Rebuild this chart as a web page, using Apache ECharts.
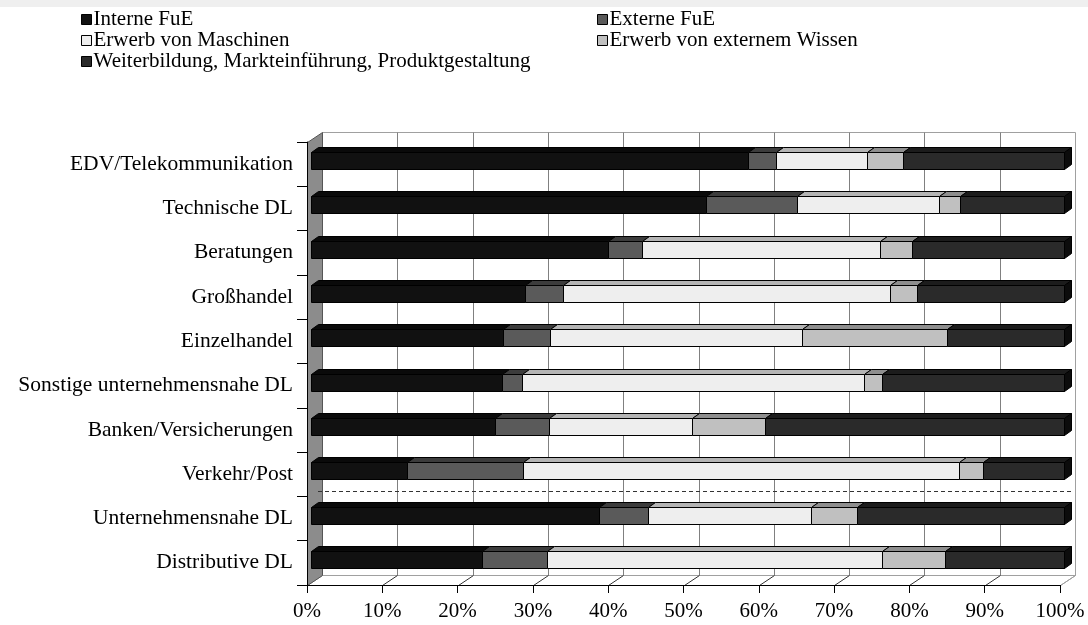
<!DOCTYPE html>
<html>
<head>
<meta charset="utf-8">
<script src="https://cdn.jsdelivr.net/npm/echarts@6/dist/echarts.min.js"></script>
<style>
html,body{margin:0;padding:0;background:#fff;}
#chart{width:1088px;height:625px;}
</style>
</head>
<body>
<div id="chart"></div>
<script>
const categories = ['EDV/Telekommunikation','Technische DL','Beratungen','Großhandel','Einzelhandel','Sonstige unternehmensnahe DL','Banken/Versicherungen','Verkehr/Post','Unternehmensnahe DL','Distributive DL'];
const seriesNames = ['Interne FuE','Externe FuE','Erwerb von Maschinen','Erwerb von externem Wissen','Weiterbildung, Markteinführung, Produktgestaltung'];
const interneFuE    = [58.0,52.5,39.4,28.4,25.5,25.4,24.5,12.7,38.3,22.7];
const externeFuE    = [3.8,12.0,4.5,5.0,6.3,2.6,7.1,15.4,6.4,8.6];
const maschinen     = [12.1,18.9,31.6,43.5,33.4,45.5,19.0,57.9,21.7,44.5];
const wissen        = [4.7,2.8,4.3,3.6,19.3,2.3,9.7,3.2,6.1,8.4];
const weiterbildung = [21.4,13.8,20.2,19.5,15.5,24.2,39.7,10.8,27.5,15.8];
const xTicks = [0,10,20,30,40,50,60,70,80,90,100];

const values = [interneFuE, externeFuE, maschinen, wissen, weiterbildung];
const frontColors = ['#111111','#5a5a5a','#eeeeee','#c0c0c0','#2a2a2a'];
const topColors   = ['#0a0a0a','#3c3c3c','#b4b4b4','#8e8e8e','#1c1c1c'];
const sideColor = '#0c0c0c';
const FONT = 'Liberation Serif';

const DX = 7, DY = -5;       // bar depth
const WX = 15, WY = -10;     // wall depth

function r(v){ return Math.round(v) + 0.5; }

function barRender(params, api) {
  const s = api.value(0), e = api.value(1), ci = api.value(2), si = api.value(3);
  const p0 = api.coord([s, ci]);
  const p1 = api.coord([e, ci]);
  const x0 = r(p0[0] + 4), x1 = r(p1[0] + 4), yc = p0[1];
  const top = r(yc - 12), bot = r(yc + 5);
  const children = [];
  children.push({type:'polygon', shape:{points:[[x0,top],[x0+DX,top+DY],[x1+DX,top+DY],[x1,top]]},
    style:{fill: topColors[si], stroke:'#000', lineWidth:1}});
  children.push({type:'rect', shape:{x:x0, y:top, width:x1-x0, height:bot-top},
    style:{fill: frontColors[si], stroke:'#000', lineWidth:1}});
  if (si === values.length - 1) {
    children.push({type:'polygon', shape:{points:[[x1,top],[x1+DX,top+DY],[x1+DX,bot+DY],[x1,bot]]},
      style:{fill: sideColor, stroke:'#000', lineWidth:1}});
  }
  return {type:'group', children};
}

function frameRender(params, api) {
  const cs = params.coordSys;
  const L = cs.x, T = cs.y, R = cs.x + cs.width, B = cs.y + cs.height;
  const ch = [];
  ch.push({type:'rect', shape:{x:r(L+WX), y:r(T+WY), width:Math.round(R-L), height:Math.round(B-T)},
    style:{fill:'#fff', stroke:'#a0a0a0', lineWidth:1}});
  xTicks.forEach(function(v){
    if (v === 0 || v === 100) return;
    const x = r(api.coord([v, 0])[0] + WX);
    ch.push({type:'line', shape:{x1:x, y1:r(T+WY), x2:x, y2:r(B+WY)}, style:{stroke:'#808080', lineWidth:1}});
  });
  ch.push({type:'polygon', shape:{points:[[r(L),r(B)],[r(L+WX),r(B+WY)],[r(R+WX),r(B+WY)],[r(R),r(B)]]},
    style:{fill:'#fff', stroke:'#a0a0a0', lineWidth:1}});
  xTicks.forEach(function(v){
    if (v === 0) return;
    const x = api.coord([v, 0])[0];
    ch.push({type:'line', shape:{x1:r(x), y1:r(B), x2:r(x+WX), y2:r(B+WY)},
      style:{stroke: v === 100 ? '#a0a0a0' : '#333', lineWidth:1}});
  });
  ch.push({type:'polygon', shape:{points:[[r(L),r(T)],[r(L+WX),r(T+WY)],[r(L+WX),r(B+WY)],[r(L),r(B)]]},
    style:{fill:'#8c8c8c', stroke:'#555', lineWidth:1}});
  const ya = api.coord([0, 7])[1], yb = api.coord([0, 8])[1];
  const yd = r((ya + yb) / 2 - 5);
  ch.push({type:'line', shape:{x1:L+11, y1:yd, x2:R+13, y2:yd},
    style:{stroke:'#333', lineWidth:1, lineDash:[4,3]}});
  return {type:'group', children: ch};
}

const series = [{
  type:'custom', name:'frame', z:0, silent:true,
  renderItem: frameRender, data:[[0,0]], encode:{x:0, y:1}
}];
values.forEach(function(arr, si){
  const data = arr.map(function(v, ci){
    let start = 0;
    for (let k = 0; k < si; k++) start += values[k][ci];
    return [start, start + v, ci, si];
  });
  series.push({
    type:'custom', name: seriesNames[si], z: 3,
    itemStyle:{color: frontColors[si], borderColor:'#000', borderWidth:1},
    renderItem: barRender, data: data, encode:{x:[0,1], y:2}
  });
});

const legendCommon = {
  orient:'vertical', icon:'rect', itemWidth:10, itemHeight:10, itemGap:0,
  selectedMode:false,
  textStyle:{fontFamily:FONT, fontSize:21, color:'#000', lineHeight:20.5, padding:[0,0,0,-3]},
  itemStyle:{borderColor:'#000', borderWidth:1}
};

const chart = echarts.init(document.getElementById('chart'), null, {renderer:'canvas'});
chart.setOption({
  animation:false,
  backgroundColor:'#fff',
  textStyle:{fontFamily:FONT},
  graphic:[{type:'rect', shape:{x:0,y:0,width:1088,height:7}, style:{fill:'#efefef'}, silent:true}],
  legend:[
    Object.assign({left:76, top:4, data:[seriesNames[0], seriesNames[2], seriesNames[4]]}, legendCommon),
    Object.assign({left:592, top:4, data:[seriesNames[1], seriesNames[3]]}, legendCommon)
  ],
  grid:{left:307, top:142, width:753, height:443, containLabel:false},
  xAxis:{
    type:'value', min:0, max:100, interval:10, z:5,
    axisLine:{show:true, lineStyle:{color:'#000', width:1}},
    axisTick:{show:true, length:8, lineStyle:{color:'#000'}},
    splitLine:{show:false},
    axisLabel:{formatter:'{value}%', fontFamily:FONT, fontSize:21, color:'#000', margin:16}
  },
  yAxis:{
    type:'category', data:categories, inverse:true, z:5,
    axisLine:{show:true, lineStyle:{color:'#000', width:1}},
    axisTick:{show:true, length:10, lineStyle:{color:'#000'}},
    splitLine:{show:false},
    axisLabel:{fontFamily:FONT, fontSize:21.5, color:'#000', margin:14}
  },
  series: series
});
</script>
</body>
</html>
